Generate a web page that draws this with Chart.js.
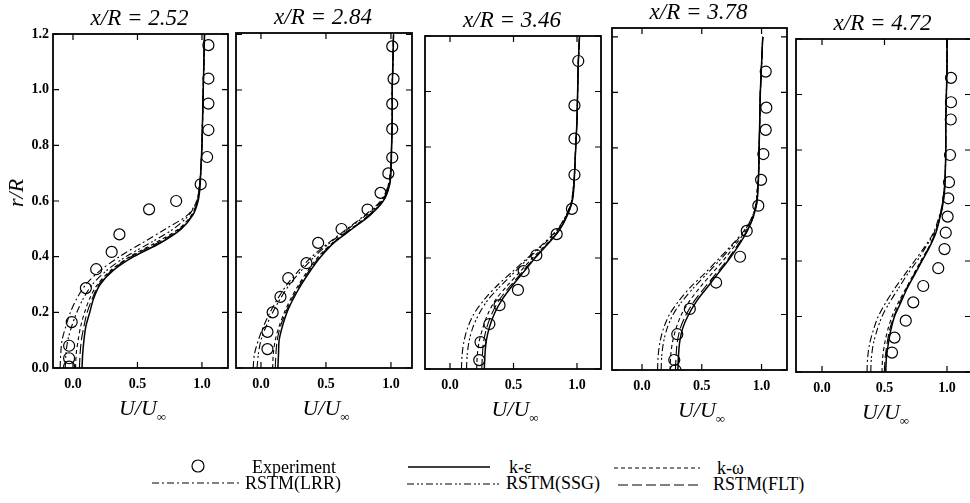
<!DOCTYPE html>
<html>
<head>
<meta charset="utf-8">
<script src="https://cdn.jsdelivr.net/npm/chart.js@4.4.1/dist/chart.umd.min.js"></script>
<style>
html, body { margin: 0; padding: 0; width: 970px; height: 503px; overflow: hidden; background: #fff; }
body { position: relative; font-family: 'Liberation Serif', 'Times New Roman', serif; color: #000; }
canvas { position: absolute; top: 0; }
svg { position: absolute; left: 0; top: 0; pointer-events: none; }
.lbl { position: absolute; white-space: nowrap; font-style: italic; }
.title { font-size: 23px; line-height: 23px; transform: translateX(-50%); }
.xt { font-size: 22px; line-height: 22px; transform: translateX(-50%); }
.xt sub { font-size: 13px; line-height: 0; vertical-align: -6px; font-style: normal; }
.yt { font-size: 22px; line-height: 22px; transform: translate(-50%, -50%) rotate(-90deg); }
.leg { position: absolute; white-space: nowrap; font-size: 18px; line-height: 18px; }
</style>
</head>
<body>
<svg id="legendMarks" width="970" height="503"></svg>
<script>
// stations along the wake
const stations = ['2.52', '2.84', '3.46', '3.78', '4.72'];

// tick labels
const xTicks = [0.0, 0.5, 1.0];
const xTickLabels = ['0.0', '0.5', '1.0'];
const yTicks = [0.0, 0.2, 0.4, 0.6, 0.8, 1.0, 1.2];
const yTickLabels = ['0.0', '0.2', '0.4', '0.6', '0.8', '1.0', '1.2'];

// radial stations of the computed profiles (r/R)
const rGrid = [0, 0.05, 0.1, 0.15, 0.2, 0.25, 0.3, 0.35, 0.4, 0.45, 0.5, 0.55, 0.6, 0.65, 0.7, 0.8, 0.9, 1.0, 1.1, 1.2];

// experiment, U/Uinf and r/R
const expU1 = [-0.03, -0.03, -0.03, -0.01, 0.10, 0.18, 0.30, 0.36, 0.59, 0.80, 0.99, 1.04, 1.05, 1.05, 1.05, 1.05];
const expR1 = [0.005, 0.035, 0.08, 0.165, 0.287, 0.355, 0.417, 0.48, 0.57, 0.60, 0.66, 0.758, 0.855, 0.95, 1.04, 1.16];
const expU2 = [0.05, 0.05, 0.09, 0.15, 0.21, 0.35, 0.44, 0.62, 0.82, 0.92, 0.98, 1.01, 1.01, 1.01, 1.02, 1.01];
const expR2 = [0.068, 0.13, 0.20, 0.256, 0.323, 0.377, 0.45, 0.50, 0.57, 0.63, 0.70, 0.757, 0.86, 0.95, 1.04, 1.157];
const expU3 = [0.23, 0.24, 0.31, 0.39, 0.535, 0.58, 0.68, 0.84, 0.96, 0.98, 0.98, 0.98, 1.01];
const expR3 = [0.032, 0.097, 0.162, 0.23, 0.285, 0.353, 0.41, 0.486, 0.577, 0.70, 0.83, 0.95, 1.11];
const expU4 = [0.28, 0.27, 0.295, 0.40, 0.62, 0.82, 0.876, 0.973, 0.996, 1.015, 1.035, 1.04, 1.035];
const expR4 = [0.0, 0.036, 0.129, 0.22, 0.315, 0.408, 0.501, 0.592, 0.685, 0.778, 0.865, 0.945, 1.075];
const expU5 = [0.56, 0.58, 0.67, 0.73, 0.81, 0.93, 0.98, 0.99, 1.005, 1.01, 1.016, 1.024, 1.03, 1.032, 1.032];
const expR5 = [0.07, 0.124, 0.185, 0.251, 0.31, 0.374, 0.443, 0.502, 0.56, 0.626, 0.684, 0.782, 0.91, 0.972, 1.06];

// computed U/Uinf at rGrid, x/R = 2.52
const kEps1 = [0.07, 0.075, 0.085, 0.10, 0.13, 0.16, 0.21, 0.31, 0.47, 0.68, 0.84, 0.93, 0.97, 0.985, 0.99, 1.0, 1.005, 1.01, 1.015, 1.02];
const kOmg1 = [0.02, 0.025, 0.04, 0.06, 0.09, 0.13, 0.19, 0.29, 0.44, 0.64, 0.82, 0.92, 0.965, 0.98, 0.99, 1.0, 1.005, 1.01, 1.015, 1.02];
const lrr1  = [-0.10, -0.095, -0.085, -0.055, -0.02, 0.03, 0.10, 0.21, 0.36, 0.54, 0.72, 0.89, 0.96, 0.98, 0.99, 1.0, 1.005, 1.01, 1.015, 1.02];
const ssg1  = [-0.06, -0.055, -0.04, -0.01, 0.03, 0.08, 0.15, 0.26, 0.41, 0.60, 0.78, 0.90, 0.96, 0.98, 0.99, 1.0, 1.005, 1.01, 1.015, 1.02];
const flt1  = [0.05, 0.055, 0.065, 0.085, 0.11, 0.15, 0.20, 0.30, 0.45, 0.66, 0.83, 0.925, 0.965, 0.98, 0.99, 1.0, 1.005, 1.01, 1.015, 1.02];

// x/R = 2.84
const kEps2 = [0.13, 0.135, 0.14, 0.165, 0.20, 0.25, 0.31, 0.38, 0.46, 0.56, 0.70, 0.84, 0.94, 0.985, 1.0, 1.005, 1.01, 1.01, 1.015, 1.02];
const kOmg2 = [0.09, 0.095, 0.11, 0.14, 0.18, 0.23, 0.29, 0.36, 0.44, 0.55, 0.69, 0.83, 0.935, 0.98, 0.995, 1.005, 1.01, 1.01, 1.015, 1.02];
const lrr2  = [-0.06, -0.05, -0.02, 0.02, 0.07, 0.13, 0.20, 0.29, 0.39, 0.52, 0.66, 0.80, 0.92, 0.975, 0.995, 1.005, 1.01, 1.01, 1.015, 1.02];
const ssg2  = [-0.03, -0.02, 0.0, 0.04, 0.09, 0.15, 0.22, 0.31, 0.41, 0.53, 0.67, 0.81, 0.93, 0.975, 0.995, 1.005, 1.01, 1.01, 1.015, 1.02];
const flt2  = [0.11, 0.115, 0.125, 0.15, 0.19, 0.24, 0.30, 0.37, 0.45, 0.555, 0.695, 0.835, 0.94, 0.985, 1.0, 1.005, 1.01, 1.01, 1.015, 1.02];

// x/R = 3.46
const kEps3 = [0.27, 0.275, 0.285, 0.31, 0.35, 0.41, 0.49, 0.58, 0.67, 0.77, 0.86, 0.92, 0.96, 0.975, 0.98, 0.99, 1.0, 1.005, 1.01, 1.02];
const kOmg3 = [0.21, 0.215, 0.23, 0.26, 0.30, 0.36, 0.45, 0.55, 0.65, 0.76, 0.855, 0.915, 0.955, 0.97, 0.98, 0.99, 1.0, 1.005, 1.01, 1.02];
const lrr3  = [0.09, 0.095, 0.11, 0.14, 0.19, 0.27, 0.37, 0.49, 0.61, 0.73, 0.84, 0.91, 0.955, 0.97, 0.98, 0.99, 1.0, 1.005, 1.01, 1.02];
const ssg3  = [0.13, 0.135, 0.15, 0.18, 0.23, 0.30, 0.40, 0.51, 0.62, 0.74, 0.845, 0.91, 0.955, 0.97, 0.98, 0.99, 1.0, 1.005, 1.01, 1.02];
const flt3  = [0.25, 0.255, 0.265, 0.29, 0.33, 0.39, 0.475, 0.57, 0.665, 0.765, 0.86, 0.92, 0.96, 0.975, 0.98, 0.99, 1.0, 1.005, 1.01, 1.02];

// x/R = 3.78
const kEps4 = [0.30, 0.305, 0.315, 0.34, 0.39, 0.46, 0.55, 0.64, 0.73, 0.81, 0.88, 0.93, 0.96, 0.97, 0.975, 0.98, 0.985, 0.99, 1.0, 1.01];
const kOmg4 = [0.235, 0.24, 0.255, 0.285, 0.33, 0.40, 0.49, 0.59, 0.69, 0.78, 0.865, 0.925, 0.955, 0.965, 0.975, 0.98, 0.985, 0.99, 1.0, 1.01];
const lrr4  = [0.13, 0.135, 0.15, 0.18, 0.23, 0.31, 0.41, 0.53, 0.64, 0.75, 0.85, 0.92, 0.955, 0.965, 0.975, 0.98, 0.985, 0.99, 1.0, 1.01];
const ssg4  = [0.16, 0.165, 0.18, 0.21, 0.26, 0.34, 0.44, 0.55, 0.66, 0.76, 0.855, 0.92, 0.955, 0.965, 0.975, 0.98, 0.985, 0.99, 1.0, 1.01];
const flt4  = [0.28, 0.285, 0.295, 0.32, 0.37, 0.44, 0.53, 0.625, 0.72, 0.80, 0.875, 0.93, 0.96, 0.97, 0.975, 0.98, 0.985, 0.99, 1.0, 1.01];

// x/R = 4.72
const kEps5 = [0.51, 0.515, 0.53, 0.55, 0.58, 0.63, 0.68, 0.74, 0.80, 0.86, 0.91, 0.94, 0.965, 0.98, 0.985, 0.99, 0.99, 0.995, 1.0, 1.0];
const kOmg5 = [0.48, 0.485, 0.50, 0.525, 0.56, 0.61, 0.67, 0.73, 0.79, 0.855, 0.905, 0.94, 0.965, 0.975, 0.985, 0.99, 0.99, 0.995, 1.0, 1.0];
const lrr5  = [0.36, 0.365, 0.38, 0.41, 0.45, 0.51, 0.58, 0.66, 0.74, 0.82, 0.89, 0.93, 0.96, 0.975, 0.985, 0.99, 0.99, 0.995, 1.0, 1.0];
const ssg5  = [0.39, 0.395, 0.41, 0.44, 0.48, 0.54, 0.61, 0.68, 0.76, 0.83, 0.895, 0.935, 0.96, 0.975, 0.985, 0.99, 0.99, 0.995, 1.0, 1.0];
const flt5  = [0.50, 0.505, 0.52, 0.54, 0.575, 0.62, 0.675, 0.735, 0.795, 0.855, 0.905, 0.94, 0.965, 0.98, 0.985, 0.99, 0.99, 0.995, 1.0, 1.0];

// axis ranges of each panel
const xRanges = [[-0.155, 1.202], [-0.192, 1.162], [-0.197, 1.189], [-0.251, 1.213], [-0.208, 1.192]];
const yTops = [1.2, 1.205, 1.2, 1.232, 1.2];

const modelLabels = ['k-ε', 'k-ω', 'RSTM(LRR)', 'RSTM(SSG)', 'RSTM(FLT)'];

const expU = [expU1, expU2, expU3, expU4, expU5];
const expR = [expR1, expR2, expR3, expR4, expR5];
const curves = [
    [kEps1, kOmg1, lrr1, ssg1, flt1],
    [kEps2, kOmg2, lrr2, ssg2, flt2],
    [kEps3, kOmg3, lrr3, ssg3, flt3],
    [kEps4, kOmg4, lrr4, ssg4, flt4],
    [kEps5, kOmg5, lrr5, ssg5, flt5]
];

// line styles
const modelDash  = [[], [4, 3], [7, 3, 2, 3], [7, 3, 2, 2, 2, 3], [10, 4]];
const modelWidth = [1.5, 1.1, 1.1, 1.1, 1.1];

// plot boxes in page pixels
const panelBoxes = [
    {l: 53,  t: 34, r: 228, b: 368},
    {l: 236, t: 33, r: 412, b: 368},
    {l: 425, t: 36, r: 601, b: 369},
    {l: 612, t: 28, r: 787, b: 370},
    {l: 796, t: 39, r: 971, b: 372}
];

const tickFont = {family: "'Liberation Serif', serif", size: 14, weight: 'bold'};

// box round the plot, ticks pointing inwards on all four sides
const frameTicks = {
    id: 'frameTicks',
    afterDraw(chart) {
        const {ctx, chartArea: a, scales} = chart;
        const len = 6;
        ctx.save();
        ctx.strokeStyle = '#000';
        ctx.lineWidth = 1.2;
        ctx.beginPath();
        scales.x.ticks.forEach(t => {
            const px = scales.x.getPixelForValue(t.value);
            ctx.moveTo(px, a.bottom); ctx.lineTo(px, a.bottom - len);
            ctx.moveTo(px, a.top);    ctx.lineTo(px, a.top + len);
        });
        scales.y.ticks.forEach(t => {
            const py = scales.y.getPixelForValue(t.value);
            ctx.moveTo(a.left, py);  ctx.lineTo(a.left + len, py);
            ctx.moveTo(a.right, py); ctx.lineTo(a.right - len, py);
        });
        ctx.stroke();
        ctx.lineWidth = 1.8;
        ctx.strokeRect(a.left, a.top, a.right - a.left, a.bottom - a.top);
        ctx.restore();
    }
};

function addLabel(cls, html, x, y) {
    const d = document.createElement('div');
    d.className = cls;
    d.innerHTML = html;
    d.style.left = x + 'px';
    d.style.top = y + 'px';
    document.body.appendChild(d);
}

stations.forEach((st, i) => {
    const box = panelBoxes[i];
    // room for the y tick labels on the first panel only
    const yAxisW = i === 0 ? box.l : 0;
    const padL = i === 0 ? 0 : 10;
    const padR = 10;
    const xAxisH = 30;

    const cv = document.createElement('canvas');
    cv.width = padL + yAxisW + (box.r - box.l) + padR;
    cv.height = box.b + xAxisH;
    cv.style.left = (box.l - padL - yAxisW) + 'px';
    document.body.appendChild(cv);

    const datasets = [{
        label: 'Experiment',
        data: expU[i].map((u, k) => ({x: u, y: expR[i][k]})),
        showLine: false,
        pointStyle: 'circle',
        pointRadius: 5.5,
        pointBorderWidth: 1.2,
        pointBorderColor: '#000',
        pointBackgroundColor: 'rgba(0,0,0,0)'
    }];
    curves[i].forEach((c, m) => {
        datasets.push({
            label: modelLabels[m],
            data: c.map((u, k) => ({x: u, y: rGrid[k]})),
            showLine: true,
            borderColor: '#000',
            borderWidth: modelWidth[m],
            borderDash: modelDash[m],
            tension: 0.3,
            pointRadius: 0,
            fill: false
        });
    });

    new Chart(cv.getContext('2d'), {
        type: 'scatter',
        data: {datasets: datasets},
        options: {
            responsive: false,
            animation: false,
            layout: {padding: {left: padL, top: box.t, right: padR, bottom: 0}},
            plugins: {legend: {display: false}, tooltip: {enabled: false}},
            scales: {
                x: {
                    type: 'linear',
                    min: xRanges[i][0],
                    max: xRanges[i][1],
                    afterFit: s => { s.height = xAxisH; },
                    afterBuildTicks: s => { s.ticks = xTicks.map(v => ({value: v})); },
                    grid: {display: false, drawTicks: false},
                    border: {display: false},
                    ticks: {
                        padding: 8,
                        autoSkip: false,
                        maxRotation: 0,
                        color: '#000',
                        font: tickFont,
                        callback: (v, k) => xTickLabels[k]
                    }
                },
                y: {
                    type: 'linear',
                    min: 0,
                    max: yTops[i],
                    afterFit: s => { s.width = yAxisW; },
                    afterBuildTicks: s => { s.ticks = yTicks.map(v => ({value: v})); },
                    grid: {display: false, drawTicks: false},
                    border: {display: false},
                    ticks: {
                        display: i === 0,
                        padding: 4,
                        autoSkip: false,
                        color: '#000',
                        font: tickFont,
                        callback: (v, k) => yTickLabels[k]
                    }
                }
            }
        },
        plugins: [frameTicks]
    });

    const cx = (box.l + box.r) / 2;
    addLabel('lbl title', 'x/R = ' + st, cx - 1, box.t - 28);
    addLabel('lbl xt', 'U/U<sub>∞</sub>', cx + 2, box.b + 29);
});

addLabel('lbl yt', 'r/R', 16, 193);

// legend: symbol samples drawn in svg, names as text
const legendMarks = document.getElementById('legendMarks');
const svgNS = 'http://www.w3.org/2000/svg';
const legendLines = [
    {m: 0, x1: 408, x2: 490, y: 467},
    {m: 1, x1: 614, x2: 700, y: 468},
    {m: 2, x1: 152, x2: 240, y: 483},
    {m: 3, x1: 407, x2: 500, y: 484},
    {m: 4, x1: 618, x2: 698, y: 485}
];
const legendText = [
    {m: 0, x: 509, y: 458},
    {m: 1, x: 717, y: 459},
    {m: 2, x: 245, y: 474},
    {m: 3, x: 506, y: 474},
    {m: 4, x: 713, y: 475}
];
const circ = document.createElementNS(svgNS, 'circle');
circ.setAttribute('cx', 198); circ.setAttribute('cy', 466); circ.setAttribute('r', 6);
circ.setAttribute('fill', 'none'); circ.setAttribute('stroke', '#000'); circ.setAttribute('stroke-width', 1.2);
legendMarks.appendChild(circ);
addLabel('leg', 'Experiment', 252, 458);
legendLines.forEach(L => {
    const ln = document.createElementNS(svgNS, 'line');
    ln.setAttribute('x1', L.x1); ln.setAttribute('x2', L.x2);
    ln.setAttribute('y1', L.y); ln.setAttribute('y2', L.y);
    ln.setAttribute('stroke', '#000');
    ln.setAttribute('stroke-width', modelWidth[L.m]);
    if (modelDash[L.m].length) ln.setAttribute('stroke-dasharray', modelDash[L.m].join(' '));
    legendMarks.appendChild(ln);
});
legendText.forEach(T => addLabel('leg', modelLabels[T.m], T.x, T.y));
</script>
</body>
</html>
